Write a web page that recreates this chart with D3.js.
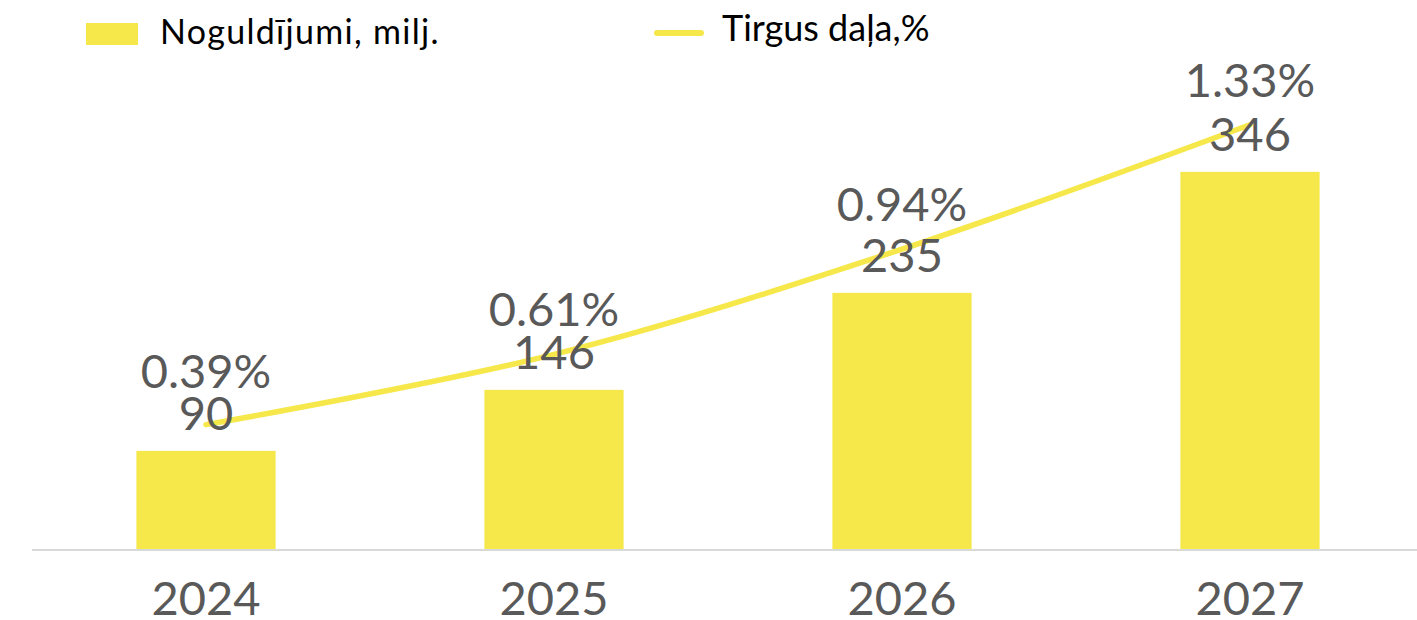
<!DOCTYPE html>
<html>
<head>
<meta charset="utf-8">
<script src="https://cdn.jsdelivr.net/npm/d3@7"></script>
<style>
  html, body { margin: 0; padding: 0; background: #ffffff; }
  svg { display: block; }
  text { font-family: Lato, "Noto Sans", sans-serif; }
</style>
</head>
<body>
<svg id="chart" width="1417" height="620"></svg>
<script>
// Yearly deposits (millions) and market share (%)
const years = ["2024", "2025", "2026", "2027"];
const deposits = [90, 146, 235, 346];
const marketShare = [0.39, 0.61, 0.94, 1.33];
const legendLabels = ["Noguldījumi, milj.", "Tirgus daļa,%"];

const W = 1417, H = 620;
const baseY = 549;
const yellow = "#f6e84a";
const labelGray = "#595959";

const svg = d3.select("#chart");

const x = d3.scaleBand()
  .domain(years)
  .range([32, 1424])
  .paddingInner(0.6)
  .paddingOuter(0.3);

// bars on the primary axis, share line on the secondary axis
const yBar = d3.scaleLinear().domain([0, 400]).range([baseY, baseY - 436]);
const yLine = d3.scaleLinear().domain([0, 1.5]).range([baseY, baseY - 478.5]);

const rows = years.map((yr, i) => ({ yr, v: deposits[i], p: marketShare[i] }));
const cx = d => x(d.yr) + x.bandwidth() / 2;

// bars
svg.append("g").selectAll("rect")
  .data(rows)
  .join("rect")
  .attr("x", d => x(d.yr))
  .attr("y", d => yBar(d.v))
  .attr("width", x.bandwidth())
  .attr("height", d => baseY - yBar(d.v))
  .attr("fill", yellow);

// category axis
const axis = svg.append("g")
  .attr("transform", `translate(0,${baseY + 1})`)
  .call(d3.axisBottom(x).tickSize(0).tickPadding(32));
axis.select(".domain").remove();
axis.append("line")
  .attr("x1", 32).attr("x2", W)
  .attr("y1", 0).attr("y2", 0)
  .attr("stroke", "#d9d9d9").attr("stroke-width", 2);
axis.selectAll(".tick text")
  .attr("font-family", "Lato, 'Noto Sans', sans-serif")
  .attr("font-size", 47)
  .attr("fill", labelGray)
  .attr("dy", "0.71em");

// market share line
const line = d3.line()
  .x(cx)
  .y(d => yLine(d.p))
  .curve(d3.curveCatmullRom.alpha(0));

svg.append("path")
  .datum(rows)
  .attr("d", line)
  .attr("fill", "none")
  .attr("stroke", yellow)
  .attr("stroke-width", 5.5)
  .attr("stroke-linecap", "round");

// data labels: deposits just above each bar, share stacked above that
const valY = d => yBar(d.v) - 21;
const pctY = d => Math.min(yLine(d.p) - 28, valY(d) - 42);

const labels = svg.append("g")
  .attr("font-size", 47)
  .attr("fill", labelGray)
  .attr("text-anchor", "middle");

labels.selectAll("text.val")
  .data(rows)
  .join("text")
  .attr("class", "val")
  .attr("x", cx)
  .attr("y", valY)
  .text(d => d.v);

labels.selectAll("text.pct")
  .data(rows)
  .join("text")
  .attr("class", "pct")
  .attr("x", cx)
  .attr("y", pctY)
  .text(d => d3.format(".2f")(d.p) + "%");

// legend
const legend = svg.append("g");
legend.append("rect")
  .attr("x", 86).attr("y", 23).attr("width", 52).attr("height", 22)
  .attr("fill", yellow);
legend.append("text")
  .attr("x", 160).attr("y", 44)
  .attr("font-size", 34)
  .attr("letter-spacing", 1.3)
  .attr("fill", "#000")
  .text(legendLabels[0]);
legend.append("line")
  .attr("x1", 657).attr("x2", 701).attr("y1", 33).attr("y2", 33)
  .attr("stroke", yellow).attr("stroke-width", 6)
  .attr("stroke-linecap", "round");
legend.append("text")
  .attr("x", 722).attr("y", 41)
  .attr("font-size", 36)
  .attr("fill", "#000")
  .text(legendLabels[1]);
</script>
</body>
</html>
